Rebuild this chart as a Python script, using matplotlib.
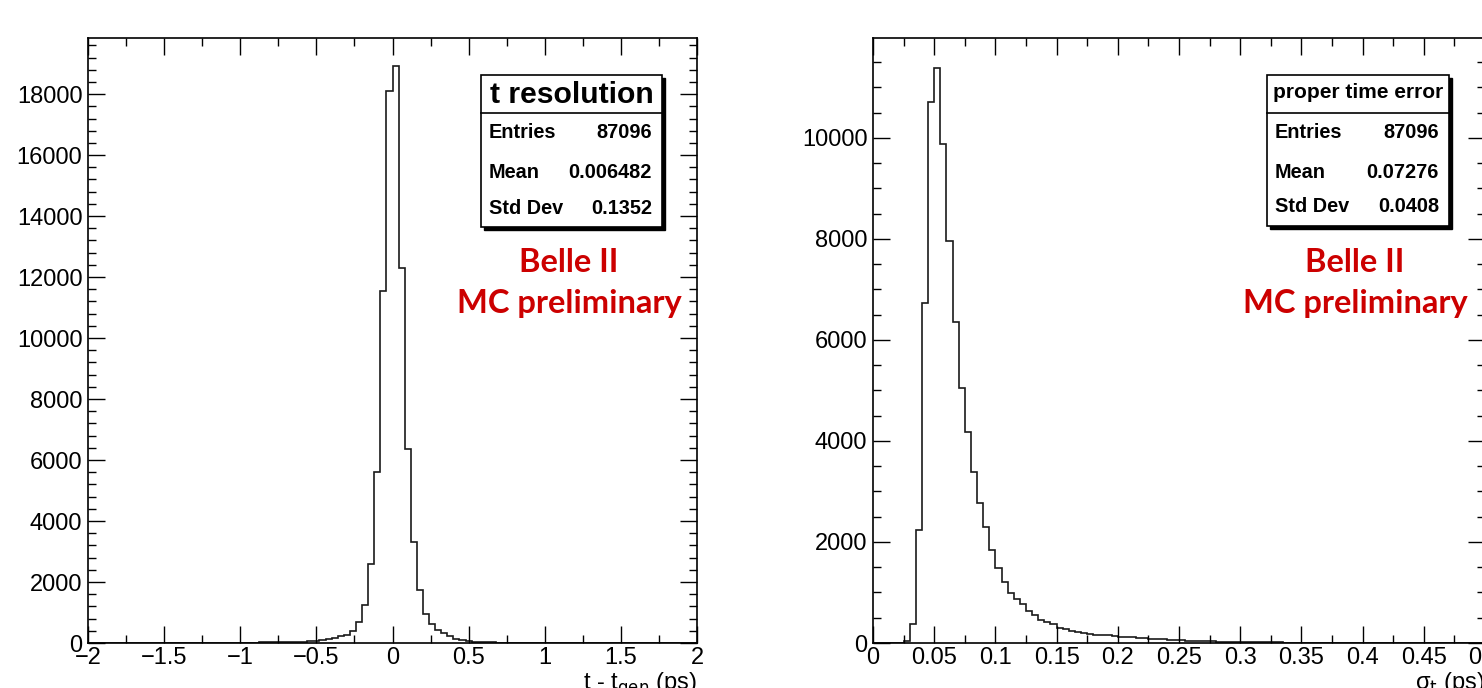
import matplotlib.pyplot as plt
import numpy as np
from matplotlib.patches import Rectangle
from matplotlib.ticker import MultipleLocator, FuncFormatter

W, H = 1482, 688

# t - t_gen, 100 bins in [-2, 2]
res_range = (-2.0, 2.0)
res_counts = [0, 0, 0, 0, 0, 1, 0, 1, 1, 1, 2, 1, 2, 2, 3, 3, 3, 4, 5, 5, 6, 7, 8, 9, 11,
              13, 14, 16, 18, 20, 23, 26, 30, 34, 40, 47, 55,
              65, 90, 130, 165, 220, 273, 383, 690, 1257, 2600, 5600, 11550, 18100,
              18930, 12300, 6350, 3300, 1750, 940, 634, 437, 328, 219,
              142, 87, 55, 40, 30, 22, 17, 14, 12, 10,
              9, 8, 7, 6, 5, 5, 4, 4, 3, 3,
              3, 2, 2, 2, 2, 1, 1, 1, 1, 1,
              1, 1, 0, 1, 0, 0, 1, 0, 0, 0]

# sigma_t, 100 bins in [0, 0.5]
err_range = (0.0, 0.5)
err_counts = [0, 0, 0, 0, 0, 40, 384, 2242, 6733, 10710,
              11386, 9889, 7962, 6357, 5052, 4177, 3378, 2779, 2303, 1835,
              1489, 1213, 998, 875, 775, 630, 545, 460, 407, 368,
              292, 269, 238, 223, 190, 170, 160, 155, 150, 140,
              125, 115, 110, 105, 95, 80, 76, 72, 68, 62,
              52, 48, 45, 42, 38, 30, 28, 26, 24, 22,
              16, 15, 14, 13, 12, 11, 10, 9, 9, 8,
              7, 7, 6, 6, 6, 5, 5, 5, 4, 4,
              4, 4, 3, 3, 3, 3, 3, 2, 2, 2,
              2, 2, 2, 2, 1, 1, 1, 1, 1, 1]

res_stats = ("t resolution", [("Entries", "87096"), ("Mean", "0.006482"), ("Std Dev", "0.1352")])
err_stats = ("proper time error", [("Entries", "87096"), ("Mean", "0.07276"), ("Std Dev", "0.0408")])

plt.rcParams['font.family'] = ['Liberation Sans', 'DejaVu Sans']
RED = "#cc0000"


def fx(x):
    return x / W


def fy(y):
    return 1 - y / H


def setup_axis(ax, counts, rng, xmajor, xminor, ymajor, yminor, ymax):
    edges = np.linspace(rng[0], rng[1], len(counts) + 1)
    ax.stairs(counts, edges, color="#1a1a1a", lw=1.2)
    ax.set_xlim(*rng)
    ax.set_ylim(0, ymax)
    ax.xaxis.set_major_locator(MultipleLocator(xmajor))
    ax.xaxis.set_minor_locator(MultipleLocator(xminor))
    ax.yaxis.set_major_locator(MultipleLocator(ymajor))
    ax.yaxis.set_minor_locator(MultipleLocator(yminor))
    ax.xaxis.set_major_formatter(FuncFormatter(lambda v, p: ("%g" % round(v, 4)).replace("-", "\u2212")))
    ax.tick_params(which="both", direction="in", top=True, right=True, labelsize=17, width=1.0)
    ax.tick_params(which="major", length=12, pad=4)
    ax.tick_params(axis="x", which="major", pad=3)
    ax.tick_params(which="minor", length=6)
    for s in ax.spines.values():
        s.set_linewidth(1.2)


def stats_box(left, right, top, sep, bottom, title, title_size, title_y, rows, row_ys):
    fig.patches.append(Rectangle((fx(left + 3), fy(bottom + 3)), fx(right - left), (bottom - top) / H,
                                 transform=fig.transFigure, facecolor="black", edgecolor="black", lw=1))
    fig.patches.append(Rectangle((fx(left), fy(bottom)), fx(right - left), (bottom - top) / H,
                                 transform=fig.transFigure, facecolor="white", edgecolor="black", lw=1.2))
    fig.add_artist(plt.Line2D([fx(left), fx(right)], [fy(sep), fy(sep)], transform=fig.transFigure,
                              color="black", lw=1.2))
    fig.text(fx((left + right) / 2), fy(title_y), title, fontsize=title_size, fontweight="bold",
             ha="center", va="center")
    for (name, val), yy in zip(rows, row_ys):
        fig.text(fx(left + 8), fy(yy), name, fontsize=14.3, fontweight="bold", ha="left", va="center")
        fig.text(fx(right - 10), fy(yy), val, fontsize=14.3, fontweight="bold", ha="right", va="center")


fig = plt.figure(figsize=(W / 100, H / 100), dpi=100)
ax1 = fig.add_axes([fx(88), fy(643), (697 - 88) / W, (643 - 38) / H])
ax2 = fig.add_axes([fx(873), fy(643), (1485 - 873) / W, (643 - 38) / H])

setup_axis(ax1, res_counts, res_range, 0.5, 0.25, 2000, 400, 19840)
setup_axis(ax2, err_counts, err_range, 0.05, 0.025, 2000, 500, 11980)

stats_box(481, 662, 75, 113, 227, res_stats[0], 21.7, 95, res_stats[1], [133, 172, 208])
stats_box(1267, 1449, 75, 113, 226, err_stats[0], 15, 93, err_stats[1], [133, 172, 207])

for cx in (569, 1355):
    fig.text(fx(cx), fy(262), "Belle II", color=RED, fontsize=23.5, fontweight="bold",
             family=["Lato", "DejaVu Sans"], ha="center", va="center")
    fig.text(fx(cx), fy(304), "MC preliminary", color=RED, fontsize=23.5, fontweight="bold",
             family=["Lato", "DejaVu Sans"], ha="center", va="center")

fig.text(fx(697), fy(670), "t - t$_{\\mathrm{gen}}$ (ps)", fontsize=17, ha="right", va="top")
fig.text(fx(1485), fy(670), "\u03c3$_{\\mathrm{t}}$ (ps)", fontsize=17, ha="right", va="top")

fig.savefig("out.png", dpi=100)
